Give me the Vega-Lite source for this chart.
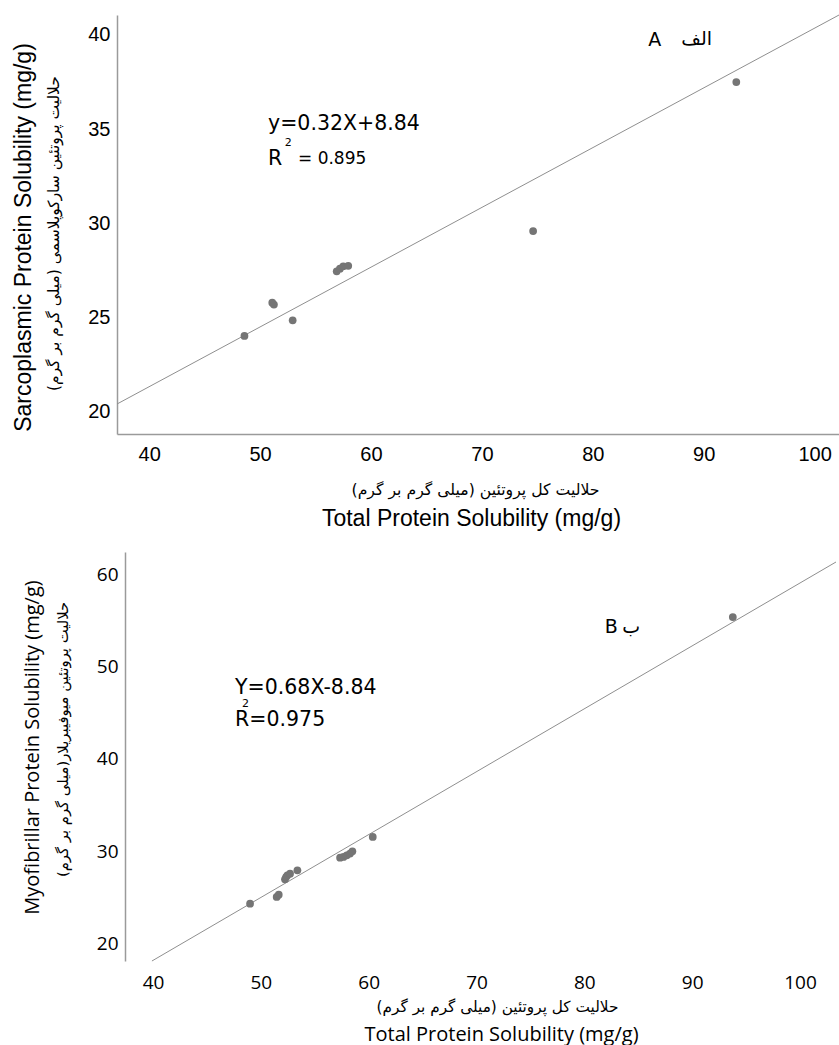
{
  "$schema": "https://vega.github.io/schema/vega-lite/v6.json",
  "padding": {"left": 11, "top": 13, "right": 0, "bottom": 3},
  "background": "white",
  "spacing": 22,
  "config": {
    "view": {"stroke": null},
    "axis": {"grid": false, "ticks": false, "tickSize": 0, "domainColor": "#9a9a9a", "domainWidth": 1.5, "labelColor": "#000000", "titleColor": "#000000", "titleFontWeight": "normal", "labelFlush": false, "labelOverlap": false}
  },
  "datasets": {
    "topPoints": [
      {"total": 48.59, "solubility": 24.03},
      {"total": 51.1, "solubility": 25.8},
      {"total": 51.25, "solubility": 25.7},
      {"total": 52.94, "solubility": 24.86},
      {"total": 56.91, "solubility": 27.46},
      {"total": 57.2, "solubility": 27.6},
      {"total": 57.5, "solubility": 27.73},
      {"total": 57.95, "solubility": 27.75},
      {"total": 74.62, "solubility": 29.6},
      {"total": 92.94, "solubility": 37.5}
    ],
    "topFit": [
      {"total": 37.1, "solubility": 20.42},
      {"total": 102.2, "solubility": 41.06}
    ],
    "topText": [
      {"total": 50.72, "solubility": 35.3, "label": "y=0.32X+8.84", "role": "equation"},
      {"total": 50.72, "solubility": 33.4, "label": "R", "role": "equation"},
      {"total": 52.55, "solubility": 34.28, "label": "2", "role": "exponent"},
      {"total": 53.42, "solubility": 33.4, "label": "= 0.895", "role": "r2"},
      {"total": 85.59, "solubility": 39.76, "label": "A", "role": "panel"},
      {"total": 89.37, "solubility": 39.79, "label": "الف", "role": "panel"}
    ],
    "bottomPoints": [
      {"total": 49.0, "solubility": 24.36},
      {"total": 51.47, "solubility": 25.08},
      {"total": 51.66, "solubility": 25.33},
      {"total": 52.24, "solubility": 26.99},
      {"total": 52.34, "solubility": 27.24},
      {"total": 52.46, "solubility": 27.42},
      {"total": 52.71, "solubility": 27.6},
      {"total": 53.39, "solubility": 27.97},
      {"total": 57.35, "solubility": 29.33},
      {"total": 57.66, "solubility": 29.41},
      {"total": 57.97, "solubility": 29.59},
      {"total": 58.27, "solubility": 29.77},
      {"total": 58.49, "solubility": 30.02},
      {"total": 60.38, "solubility": 31.57},
      {"total": 93.77, "solubility": 55.35}
    ],
    "bottomFit": [
      {"total": 39.9, "solubility": 18.16},
      {"total": 103.34, "solubility": 61.3}
    ],
    "bottomText": [
      {"total": 47.61, "solubility": 47.68, "label": "Y=0.68X-8.84", "role": "equation"},
      {"total": 47.61, "solubility": 44.27, "label": "R=0.975", "role": "equation"},
      {"total": 48.58, "solubility": 45.98, "label": "2", "role": "exponent"},
      {"total": 82.49, "solubility": 54.27, "label": "B", "role": "panel"},
      {"total": 84.34, "solubility": 54.27, "label": "ب", "role": "panel"}
    ]
  },
  "vconcat": [
    {
      "width": 722,
      "height": 419,
      "resolve": {"axis": {"x": "independent", "y": "independent"}},
      "layer": [
        {
          "data": {"name": "topFit"},
          "mark": {"type": "line", "color": "#8f8f8f", "strokeWidth": 1},
          "encoding": {
            "x": {"field": "total", "type": "quantitative", "scale": {"domain": [37.1, 102.2], "nice": false, "zero": false},
              "axis": {"orient": "bottom", "domain": false, "labels": false, "title": "Total Protein Solubility (mg/g)", "titleFont": "Liberation Sans", "titleFontSize": 23, "titleX": 354, "titleY": 84, "titleAlign": "center", "titleBaseline": "middle"}},
            "y": {"field": "solubility", "type": "quantitative", "scale": {"domain": [18.83, 41.06], "nice": false, "zero": false},
              "axis": {"orient": "left", "domain": false, "labels": false, "title": "Sarcoplasmic Protein Solubility (mg/g)", "titleFont": "Liberation Sans", "titleFontSize": 23, "titleX": -94, "titleY": 222, "titleAlign": "center", "titleBaseline": "middle", "titleAngle": -90}}
          }
        },
        {
          "data": {"name": "topPoints"},
          "mark": {"type": "circle", "size": 60, "color": "#757575", "opacity": 1},
          "encoding": {
            "x": {"field": "total", "type": "quantitative", "scale": {"domain": [37.1, 102.2], "nice": false, "zero": false},
              "axis": {"orient": "bottom", "values": [40, 50, 60, 70, 80, 90, 100], "labelFont": "Liberation Sans", "labelFontSize": 20, "labelPadding": 20, "labelBaseline": "middle", "title": "حلالیت کل پروتئین (میلی گرم بر گرم)", "titleFont": "DejaVu Sans", "titleFontSize": 15.7, "titleX": 358, "titleY": 55, "titleAlign": "center", "titleBaseline": "middle"}},
            "y": {"field": "solubility", "type": "quantitative", "scale": {"domain": [18.83, 41.06], "nice": false, "zero": false},
              "axis": {"orient": "left", "values": [20, 25, 30, 35, 40], "labelFont": "Liberation Sans", "labelFontSize": 20, "labelPadding": 7, "title": "حلالیت پروتئین سارکوپلاسمی (میلی گرم بر گرم)", "titleFont": "DejaVu Sans", "titleFontSize": 15.5, "titleX": -64, "titleY": 218, "titleAlign": "center", "titleBaseline": "middle", "titleAngle": -90}}
          }
        },
        {
          "data": {"name": "topText"},
          "transform": [{"filter": "datum.role === 'equation'"}],
          "mark": {"type": "text", "font": "DejaVu Sans", "fontSize": 20.5, "align": "left", "baseline": "middle", "color": "#000000"},
          "encoding": {
            "x": {"field": "total", "type": "quantitative", "axis": null},
            "y": {"field": "solubility", "type": "quantitative", "axis": null},
            "text": {"field": "label"}
          }
        },
        {
          "data": {"name": "topText"},
          "transform": [{"filter": "datum.role === 'r2'"}],
          "mark": {"type": "text", "font": "DejaVu Sans", "fontSize": 17, "align": "left", "baseline": "middle", "color": "#000000"},
          "encoding": {
            "x": {"field": "total", "type": "quantitative", "axis": null},
            "y": {"field": "solubility", "type": "quantitative", "axis": null},
            "text": {"field": "label"}
          }
        },
        {
          "data": {"name": "topText"},
          "transform": [{"filter": "datum.role === 'exponent'"}],
          "mark": {"type": "text", "font": "DejaVu Sans", "fontSize": 11, "align": "center", "baseline": "middle", "color": "#000000"},
          "encoding": {
            "x": {"field": "total", "type": "quantitative", "axis": null},
            "y": {"field": "solubility", "type": "quantitative", "axis": null},
            "text": {"field": "label"}
          }
        },
        {
          "data": {"name": "topText"},
          "transform": [{"filter": "datum.role === 'panel'"}],
          "mark": {"type": "text", "font": "DejaVu Sans", "fontSize": 19, "align": "center", "baseline": "middle", "color": "#000000"},
          "encoding": {
            "x": {"field": "total", "type": "quantitative", "axis": null},
            "y": {"field": "solubility", "type": "quantitative", "axis": null},
            "text": {"field": "label"}
          }
        }
      ]
    },
    {
      "width": 719,
      "height": 409,
      "resolve": {"axis": {"x": "independent", "y": "independent"}},
      "layer": [
        {
          "data": {"name": "bottomFit"},
          "mark": {"type": "line", "color": "#8f8f8f", "strokeWidth": 1},
          "encoding": {
            "x": {"field": "total", "type": "quantitative", "scale": {"domain": [36.66, 103.34], "nice": false, "zero": false},
              "axis": {"orient": "bottom", "domain": false, "labels": false, "title": "Total Protein Solubility (mg/g)", "titleFont": "Open Sans", "titleFontSize": 20, "titleX": 384, "titleY": 73, "titleAlign": "center", "titleBaseline": "middle"}},
            "y": {"field": "solubility", "type": "quantitative", "scale": {"domain": [18.16, 62.38], "nice": false, "zero": false},
              "axis": {"orient": "left", "domain": false, "labels": false, "offset": -8, "title": "Myofibrillar Protein Solubility (mg/g)", "titleFont": "Open Sans", "titleFontSize": 20, "titleX": -93, "titleY": 195, "titleAlign": "center", "titleBaseline": "middle", "titleAngle": -90}}
          }
        },
        {
          "mark": {"type": "rule", "color": "#9a9a9a", "strokeWidth": 1.5},
          "encoding": {
            "x": {"datum": 37.4, "type": "quantitative", "axis": null},
            "x2": {"datum": 103.34},
            "y": {"datum": 18.16, "type": "quantitative", "axis": null}
          }
        },
        {
          "data": {"name": "bottomPoints"},
          "mark": {"type": "circle", "size": 60, "color": "#757575", "opacity": 1},
          "encoding": {
            "x": {"field": "total", "type": "quantitative", "scale": {"domain": [36.66, 103.34], "nice": false, "zero": false},
              "axis": {"orient": "bottom", "domain": false, "values": [40, 50, 60, 70, 80, 90, 100], "labelFont": "Open Sans", "labelFontSize": 19, "labelPadding": 21, "labelBaseline": "middle", "title": "حلالیت کل پروتئین (میلی گرم بر گرم)", "titleFont": "DejaVu Sans", "titleFontSize": 15.3, "titleX": 380, "titleY": 45, "titleAlign": "center", "titleBaseline": "middle"}},
            "y": {"field": "solubility", "type": "quantitative", "scale": {"domain": [18.16, 62.38], "nice": false, "zero": false},
              "axis": {"orient": "left", "offset": -8, "values": [20, 30, 40, 50, 60], "labelFont": "Open Sans", "labelFontSize": 19, "labelPadding": 7, "title": "حلالیت پروتئین میوفیبریلار(میلی گرم بر گرم)", "titleFont": "DejaVu Sans", "titleFontSize": 14.8, "titleX": -62, "titleY": 187, "titleAlign": "center", "titleBaseline": "middle", "titleAngle": -90}}
          }
        },
        {
          "data": {"name": "bottomText"},
          "transform": [{"filter": "datum.role === 'equation'"}],
          "mark": {"type": "text", "font": "DejaVu Sans", "fontSize": 20.5, "align": "left", "baseline": "middle", "color": "#000000"},
          "encoding": {
            "x": {"field": "total", "type": "quantitative", "axis": null},
            "y": {"field": "solubility", "type": "quantitative", "axis": null},
            "text": {"field": "label"}
          }
        },
        {
          "data": {"name": "bottomText"},
          "transform": [{"filter": "datum.role === 'exponent'"}],
          "mark": {"type": "text", "font": "DejaVu Sans", "fontSize": 11, "align": "center", "baseline": "middle", "color": "#000000"},
          "encoding": {
            "x": {"field": "total", "type": "quantitative", "axis": null},
            "y": {"field": "solubility", "type": "quantitative", "axis": null},
            "text": {"field": "label"}
          }
        },
        {
          "data": {"name": "bottomText"},
          "transform": [{"filter": "datum.role === 'panel'"}],
          "mark": {"type": "text", "font": "DejaVu Sans", "fontSize": 19, "align": "center", "baseline": "middle", "color": "#000000"},
          "encoding": {
            "x": {"field": "total", "type": "quantitative", "axis": null},
            "y": {"field": "solubility", "type": "quantitative", "axis": null},
            "text": {"field": "label"}
          }
        }
      ]
    }
  ]
}
